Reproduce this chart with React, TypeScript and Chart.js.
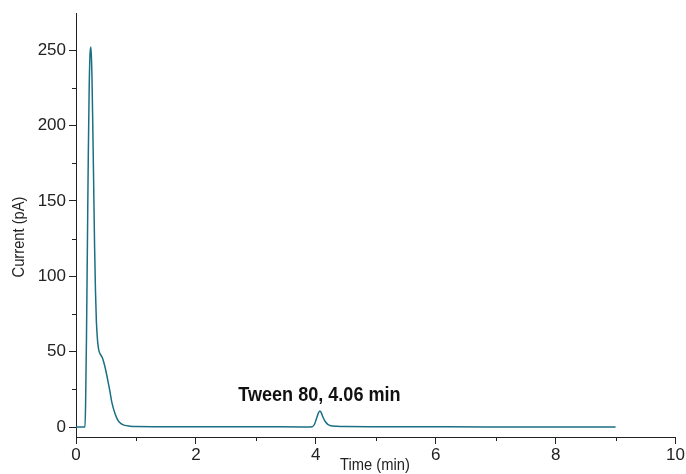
import React, { useEffect, useRef } from "react";
import { Chart, registerables } from "chart.js";

Chart.register(...registerables);

// Retention time (min) and detector current (pA)
const timeMin: number[] = [
  0, 0.15, 0.16, 0.175, 0.19, 0.205, 0.22, 0.235, 0.25, 0.265, 0.28, 0.295, 0.31, 0.325, 0.34,
  0.36, 0.38, 0.41, 0.44, 0.47, 0.5, 0.53, 0.56, 0.6, 0.65, 0.7, 0.75, 0.8, 0.9, 1.0, 1.5, 2,
  3, 3.9, 3.94, 3.98, 4.01, 4.04, 4.067, 4.09, 4.12, 4.16, 4.2, 4.25, 4.35, 4.5, 5, 6, 7, 8, 9,
];
const currentPA: number[] = [
  0, 0, 15, 60, 120, 180, 225, 248, 252, 235, 200, 160, 120, 90, 70,
  57, 51, 48, 46, 42, 37, 31, 25, 16, 9, 4.5, 2.3, 1.3, 0.6, 0.35, 0.25, 0.2,
  0.15, 0.1, 0.2, 2, 5.5, 9, 10.6, 9.5, 6.5, 3.5, 1.8, 0.9, 0.5, 0.3, 0.2, 0.15, 0.1, 0.1, 0.1,
];

const xTicks: number[] = [0, 1, 2, 3, 4, 5, 6, 7, 8, 9, 10];
const yTicks: number[] = [0, 25, 50, 75, 100, 125, 150, 175, 200, 225, 250];
const xTitle = "Time (min)";
const yTitle = "Current (pA)";
const peakLabel = "Tween 80, 4.06 min";
const peakTime = 4.06;
const peakValue = 10.6;

const LINE = "#1b6f84";
const AXIS = "#222";
const FONT = "'Liberation Sans Narrow', 'Arial Narrow', 'Liberation Sans', sans-serif";

export default function App() {
  const ref = useRef<HTMLCanvasElement | null>(null);
  useEffect(() => {
    if (!ref.current) return;
    const data = timeMin.map((t, i) => ({ x: t, y: currentPA[i] }));

    const extras = {
      id: "extras",
      afterDraw(chart: any) {
        const { ctx, scales, chartArea } = chart;
        const xs = scales.x;
        const ys = scales.y;
        ctx.save();
        ctx.strokeStyle = AXIS;
        ctx.lineWidth = 1;
        // minor ticks
        ctx.beginPath();
        for (const v of yTicks) {
          if (v % 50 !== 0) {
            const py = Math.round(ys.getPixelForValue(v)) + 0.5;
            ctx.moveTo(chartArea.left, py);
            ctx.lineTo(chartArea.left - 4, py);
          }
        }
        for (const v of xTicks) {
          if (v % 2 !== 0) {
            const px = Math.round(xs.getPixelForValue(v)) + 0.5;
            ctx.moveTo(px, chartArea.bottom);
            ctx.lineTo(px, chartArea.bottom + 4);
          }
        }
        ctx.stroke();
        // titles
        ctx.fillStyle = "#222";
        ctx.textAlign = "center";
        ctx.textBaseline = "middle";
        ctx.save();
        ctx.translate(375, 466);
        ctx.scale(0.92, 1);
        ctx.font = `16px ${FONT}`;
        ctx.fillText(xTitle, 0, 0);
        ctx.restore();
        ctx.save();
        ctx.translate(20, 237);
        ctx.rotate(-Math.PI / 2);
        ctx.scale(0.92, 1);
        ctx.font = `16px ${FONT}`;
        ctx.fillText(yTitle, 0, 0);
        ctx.restore();
        // peak label
        ctx.save();
        ctx.translate(xs.getPixelForValue(peakTime), ys.getPixelForValue(peakValue) - 10);
        ctx.scale(0.86, 1);
        ctx.font = `bold 21px ${FONT}`;
        ctx.fillStyle = "#111";
        ctx.textBaseline = "alphabetic";
        ctx.fillText(peakLabel, 0, 0);
        ctx.restore();
        ctx.restore();
      },
    };

    const chart = new Chart(ref.current, {
      type: "scatter",
      data: {
        datasets: [
          {
            data,
            showLine: true,
            borderColor: LINE,
            borderWidth: 1.5,
            pointRadius: 0,
            cubicInterpolationMode: "monotone",
            fill: false,
          },
        ],
      },
      options: {
        animation: false,
        responsive: true,
        maintainAspectRatio: false,
        layout: { padding: { top: 13, right: 10, left: 0, bottom: 0 } },
        plugins: { legend: { display: false }, tooltip: { enabled: false } },
        scales: {
          x: {
            type: "linear",
            min: 0,
            max: 10,
            afterBuildTicks: (s: any) => {
              s.ticks = xTicks.map((v) => ({ value: v }));
            },
            afterFit: (s: any) => {
              s.height = 37;
            },
            ticks: {
              autoSkip: false,
              maxRotation: 0,
              padding: 1,
              color: "#222",
              font: { family: FONT, size: 17 },
              callback: (v: any) => (Number(v) % 2 === 0 ? String(v) : ""),
            },
            grid: {
              drawOnChartArea: false,
              drawTicks: true,
              tickLength: 7,
              color: (c: any) => (c.tick && c.tick.value % 2 === 0 ? AXIS : "rgba(0,0,0,0)"),
            },
            border: { display: true, color: AXIS, width: 1 },
          },
          y: {
            type: "linear",
            min: -6.6,
            max: 274.5,
            afterBuildTicks: (s: any) => {
              s.ticks = yTicks.map((v) => ({ value: v }));
            },
            afterFit: (s: any) => {
              s.width = 76;
            },
            ticks: {
              autoSkip: false,
              padding: 3,
              color: "#222",
              font: { family: FONT, size: 17 },
              callback: (v: any) => (Number(v) % 50 === 0 ? String(v) : ""),
            },
            grid: {
              drawOnChartArea: false,
              drawTicks: true,
              tickLength: 7,
              color: (c: any) => (c.tick && c.tick.value % 50 === 0 ? AXIS : "rgba(0,0,0,0)"),
            },
            border: { display: true, color: AXIS, width: 1 },
          },
        },
      },
      plugins: [extras],
    });
    return () => chart.destroy();
  }, []);

  return (
    <div style={{ position: "fixed", left: 0, top: 0, width: 686, height: 474, background: "#fff" }}>
      <canvas ref={ref} />
    </div>
  );
}
